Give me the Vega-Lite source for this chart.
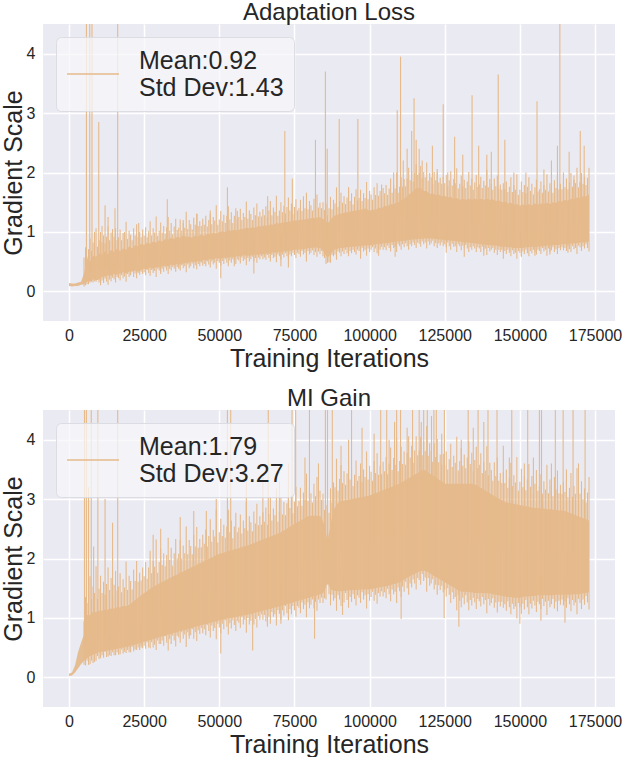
{
"$schema": "https://vega.github.io/schema/vega-lite/v6.json",
"background": "white",
"padding": {"left": 1, "top": 0, "right": 0, "bottom": 0},
"spacing": 15,
"config": {
  "view": {"fill": "#EAEAF2", "stroke": null},
  "font": "Liberation Sans",
  "axis": {"grid": true, "gridColor": "#FFFFFF", "gridWidth": 1.5, "domain": false, "ticks": false, "tickSize": 0, "labelFont": "Liberation Sans", "labelFontSize": 16, "labelColor": "#262626", "titleFont": "Liberation Sans", "titleFontSize": 25, "titleFontWeight": "normal", "titleColor": "#262626"},
  "axisX": {"titlePadding": 3, "labelPadding": 6},
  "axisY": {"titlePadding": 0, "labelPadding": 8},
  "title": {"font": "Liberation Sans", "fontSize": 24, "fontWeight": "normal", "color": "#262626", "offset": -0.5}
},
"resolve": {"scale": {"color": "independent"}, "legend": {"color": "independent"}},
"datasets": {
"a_band": [
{"it":0,"lo":0.09,"hi":0.14},{"it":1000,"lo":0.08,"hi":0.13},{"it":2000,"lo":0.09,"hi":0.13},{"it":3000,"lo":0.09,"hi":0.15},{"it":4000,"lo":0.11,"hi":0.16},{"it":5000,"lo":0.12,"hi":0.3},{"it":6000,"lo":0.16,"hi":0.55},{"it":7000,"lo":0.17,"hi":0.5},{"it":8000,"lo":0.2,"hi":0.6},{"it":9000,"lo":0.19,"hi":0.58},
{"it":10000,"lo":0.2,"hi":0.64},{"it":11000,"lo":0.24,"hi":0.62},{"it":12000,"lo":0.25,"hi":0.68},{"it":13000,"lo":0.27,"hi":0.62},{"it":14000,"lo":0.26,"hi":0.7},{"it":15000,"lo":0.29,"hi":0.66},{"it":16000,"lo":0.28,"hi":0.72},{"it":17000,"lo":0.3,"hi":0.68},{"it":18000,"lo":0.32,"hi":0.72},{"it":19000,"lo":0.31,"hi":0.7},
{"it":20000,"lo":0.33,"hi":0.76},{"it":21000,"lo":0.34,"hi":0.72},{"it":22000,"lo":0.35,"hi":0.78},{"it":23000,"lo":0.33,"hi":0.76},{"it":24000,"lo":0.36,"hi":0.8},{"it":25000,"lo":0.38,"hi":0.78},{"it":26000,"lo":0.37,"hi":0.82},{"it":27000,"lo":0.4,"hi":0.8},{"it":28000,"lo":0.38,"hi":0.84},{"it":29000,"lo":0.41,"hi":0.82},
{"it":30000,"lo":0.4,"hi":0.86},{"it":31000,"lo":0.42,"hi":0.84},{"it":32000,"lo":0.43,"hi":0.88},{"it":33000,"lo":0.42,"hi":0.87},{"it":34000,"lo":0.45,"hi":0.9},{"it":35000,"lo":0.44,"hi":0.88},{"it":36000,"lo":0.46,"hi":0.92},{"it":37000,"lo":0.45,"hi":0.9},{"it":38000,"lo":0.47,"hi":0.94},{"it":39000,"lo":0.48,"hi":0.92},
{"it":40000,"lo":0.48,"hi":0.92},{"it":41000,"lo":0.5,"hi":0.9},{"it":42000,"lo":0.49,"hi":0.94},{"it":43000,"lo":0.51,"hi":0.92},{"it":44000,"lo":0.5,"hi":0.96},{"it":45000,"lo":0.53,"hi":0.93},{"it":46000,"lo":0.52,"hi":0.97},{"it":47000,"lo":0.55,"hi":0.96},{"it":48000,"lo":0.53,"hi":0.99},{"it":49000,"lo":0.56,"hi":0.97},
{"it":50000,"lo":0.55,"hi":1.0},{"it":51000,"lo":0.56,"hi":1.01},{"it":52000,"lo":0.57,"hi":1.0},{"it":53000,"lo":0.56,"hi":1.03},{"it":54000,"lo":0.58,"hi":1.02},{"it":55000,"lo":0.57,"hi":1.04},{"it":56000,"lo":0.6,"hi":1.02},{"it":57000,"lo":0.58,"hi":1.05},{"it":58000,"lo":0.61,"hi":1.05},{"it":59000,"lo":0.6,"hi":1.07},
{"it":60000,"lo":0.6,"hi":1.06},{"it":61000,"lo":0.61,"hi":1.08},{"it":62000,"lo":0.62,"hi":1.07},{"it":63000,"lo":0.61,"hi":1.1},{"it":64000,"lo":0.63,"hi":1.09},{"it":65000,"lo":0.62,"hi":1.11},{"it":66000,"lo":0.64,"hi":1.1},{"it":67000,"lo":0.63,"hi":1.13},{"it":68000,"lo":0.66,"hi":1.12},{"it":69000,"lo":0.64,"hi":1.15},
{"it":70000,"lo":0.67,"hi":1.14},{"it":71000,"lo":0.66,"hi":1.16},{"it":72000,"lo":0.68,"hi":1.16},{"it":73000,"lo":0.67,"hi":1.17},{"it":74000,"lo":0.69,"hi":1.18},{"it":75000,"lo":0.7,"hi":1.19},{"it":76000,"lo":0.7,"hi":1.19},{"it":77000,"lo":0.71,"hi":1.21},{"it":78000,"lo":0.71,"hi":1.2},{"it":79000,"lo":0.72,"hi":1.22},
{"it":80000,"lo":0.73,"hi":1.22},{"it":81000,"lo":0.73,"hi":1.24},{"it":82000,"lo":0.74,"hi":1.23},{"it":83000,"lo":0.73,"hi":1.25},{"it":84000,"lo":0.72,"hi":1.24},{"it":85000,"lo":0.64,"hi":1.2},{"it":86000,"lo":0.56,"hi":1.14},{"it":87000,"lo":0.62,"hi":1.2},{"it":88000,"lo":0.69,"hi":1.27},{"it":89000,"lo":0.71,"hi":1.28},
{"it":90000,"lo":0.73,"hi":1.31},{"it":91000,"lo":0.73,"hi":1.31},{"it":92000,"lo":0.74,"hi":1.33},{"it":93000,"lo":0.74,"hi":1.33},{"it":94000,"lo":0.75,"hi":1.35},{"it":95000,"lo":0.75,"hi":1.35},{"it":96000,"lo":0.76,"hi":1.37},{"it":97000,"lo":0.76,"hi":1.37},{"it":98000,"lo":0.77,"hi":1.39},{"it":99000,"lo":0.77,"hi":1.39},
{"it":100000,"lo":0.77,"hi":1.35},{"it":101000,"lo":0.78,"hi":1.38},{"it":102000,"lo":0.79,"hi":1.37},{"it":103000,"lo":0.79,"hi":1.41},{"it":104000,"lo":0.8,"hi":1.4},{"it":105000,"lo":0.81,"hi":1.44},{"it":106000,"lo":0.81,"hi":1.43},{"it":107000,"lo":0.82,"hi":1.47},{"it":108000,"lo":0.83,"hi":1.46},{"it":109000,"lo":0.84,"hi":1.5},
{"it":110000,"lo":0.84,"hi":1.5},{"it":111000,"lo":0.85,"hi":1.55},{"it":112000,"lo":0.85,"hi":1.57},{"it":113000,"lo":0.86,"hi":1.63},{"it":114000,"lo":0.87,"hi":1.66},{"it":115000,"lo":0.87,"hi":1.72},{"it":116000,"lo":0.88,"hi":1.74},{"it":117000,"lo":0.88,"hi":1.74},{"it":118000,"lo":0.89,"hi":1.69},{"it":119000,"lo":0.89,"hi":1.69},
{"it":120000,"lo":0.89,"hi":1.64},{"it":121000,"lo":0.89,"hi":1.65},{"it":122000,"lo":0.88,"hi":1.62},{"it":123000,"lo":0.87,"hi":1.63},{"it":124000,"lo":0.87,"hi":1.6},{"it":125000,"lo":0.86,"hi":1.61},{"it":126000,"lo":0.86,"hi":1.58},{"it":127000,"lo":0.85,"hi":1.59},{"it":128000,"lo":0.85,"hi":1.56},{"it":129000,"lo":0.84,"hi":1.57},
{"it":130000,"lo":0.84,"hi":1.54},{"it":131000,"lo":0.83,"hi":1.56},{"it":132000,"lo":0.82,"hi":1.54},{"it":133000,"lo":0.82,"hi":1.56},{"it":134000,"lo":0.81,"hi":1.54},{"it":135000,"lo":0.81,"hi":1.56},{"it":136000,"lo":0.8,"hi":1.54},{"it":137000,"lo":0.79,"hi":1.56},{"it":138000,"lo":0.79,"hi":1.54},{"it":139000,"lo":0.78,"hi":1.56},
{"it":140000,"lo":0.78,"hi":1.54},{"it":141000,"lo":0.77,"hi":1.55},{"it":142000,"lo":0.77,"hi":1.52},{"it":143000,"lo":0.76,"hi":1.53},{"it":144000,"lo":0.75,"hi":1.5},{"it":145000,"lo":0.75,"hi":1.51},{"it":146000,"lo":0.74,"hi":1.48},{"it":147000,"lo":0.74,"hi":1.49},{"it":148000,"lo":0.73,"hi":1.46},{"it":149000,"lo":0.73,"hi":1.47},
{"it":150000,"lo":0.73,"hi":1.44},{"it":151000,"lo":0.73,"hi":1.46},{"it":152000,"lo":0.74,"hi":1.45},{"it":153000,"lo":0.74,"hi":1.47},{"it":154000,"lo":0.75,"hi":1.45},{"it":155000,"lo":0.75,"hi":1.48},{"it":156000,"lo":0.75,"hi":1.46},{"it":157000,"lo":0.76,"hi":1.48},{"it":158000,"lo":0.76,"hi":1.47},{"it":159000,"lo":0.77,"hi":1.49},
{"it":160000,"lo":0.77,"hi":1.47},{"it":161000,"lo":0.78,"hi":1.5},{"it":162000,"lo":0.78,"hi":1.49},{"it":163000,"lo":0.78,"hi":1.52},{"it":164000,"lo":0.79,"hi":1.51},{"it":165000,"lo":0.79,"hi":1.54},{"it":166000,"lo":0.8,"hi":1.53},{"it":167000,"lo":0.8,"hi":1.56},{"it":168000,"lo":0.81,"hi":1.55},{"it":169000,"lo":0.81,"hi":1.58},
{"it":170000,"lo":0.82,"hi":1.57},{"it":171000,"lo":0.82,"hi":1.6},{"it":172000,"lo":0.83,"hi":1.6},{"it":173000,"lo":0.84,"hi":1.63}
],
"a_spk": [
{"it":5000,"y1":0.08,"y2":0.57},{"it":5500,"y1":0.1,"y2":0.74},{"it":6000,"y1":0.12,"y2":0.58},{"it":6500,"y1":0.12,"y2":0.71},{"it":7000,"y1":0.15,"y2":0.89},{"it":7500,"y1":0.16,"y2":0.68},{"it":8000,"y1":0.15,"y2":0.82},{"it":8500,"y1":0.17,"y2":0.78},{"it":9000,"y1":0.16,"y2":1.06},{"it":9500,"y1":0.19,"y2":0.75},
{"it":10000,"y1":0.15,"y2":0.86},{"it":10500,"y1":0.1,"y2":1.0},{"it":11000,"y1":0.18,"y2":0.83},{"it":11500,"y1":0.14,"y2":0.94},{"it":12000,"y1":0.21,"y2":0.81},{"it":12500,"y1":0.16,"y2":0.92},{"it":13000,"y1":0.11,"y2":1.09},{"it":13500,"y1":0.2,"y2":0.86},{"it":14000,"y1":0.17,"y2":0.99},{"it":14500,"y1":0.23,"y2":0.8},
{"it":15000,"y1":0.2,"y2":0.92},{"it":15500,"y1":0.15,"y2":1.06},{"it":16000,"y1":0.24,"y2":0.86},{"it":16500,"y1":0.22,"y2":0.91},{"it":17000,"y1":0.18,"y2":1.04},{"it":17500,"y1":0.27,"y2":0.86},{"it":18000,"y1":0.22,"y2":0.98},{"it":18500,"y1":0.25,"y2":0.9},{"it":19000,"y1":0.16,"y2":1.17},{"it":19500,"y1":0.29,"y2":0.88},
{"it":20000,"y1":0.24,"y2":1.02},{"it":20500,"y1":0.27,"y2":0.95},{"it":21000,"y1":0.32,"y2":0.86},{"it":21500,"y1":0.24,"y2":1.06},{"it":22000,"y1":0.3,"y2":0.94},{"it":22500,"y1":0.22,"y2":1.13},{"it":23000,"y1":0.31,"y2":0.91},{"it":23500,"y1":0.28,"y2":1.0},{"it":24000,"y1":0.33,"y2":0.91},{"it":24500,"y1":0.29,"y2":1.04},
{"it":25000,"y1":0.32,"y2":0.94},{"it":25500,"y1":0.27,"y2":1.08},{"it":26000,"y1":0.36,"y2":0.91},{"it":26500,"y1":0.31,"y2":1.01},{"it":27000,"y1":0.26,"y2":1.18},{"it":27500,"y1":0.36,"y2":0.94},{"it":28000,"y1":0.31,"y2":1.06},{"it":28500,"y1":0.34,"y2":0.99},{"it":29000,"y1":0.24,"y2":1.26},{"it":29500,"y1":0.38,"y2":0.93},
{"it":30000,"y1":0.35,"y2":1.02},{"it":30500,"y1":0.29,"y2":1.16},{"it":31000,"y1":0.38,"y2":0.99},{"it":31500,"y1":0.33,"y2":1.1},{"it":32000,"y1":0.4,"y2":0.97},{"it":32500,"y1":0.35,"y2":1.08},{"it":33000,"y1":0.29,"y2":1.25},{"it":33500,"y1":0.38,"y2":1.02},{"it":34000,"y1":0.35,"y2":1.15},{"it":34500,"y1":0.41,"y2":0.96},
{"it":35000,"y1":0.38,"y2":1.09},{"it":35500,"y1":0.33,"y2":1.22},{"it":36000,"y1":0.41,"y2":1.03},{"it":36500,"y1":0.4,"y2":1.07},{"it":37000,"y1":0.35,"y2":1.21},{"it":37500,"y1":0.44,"y2":1.02},{"it":38000,"y1":0.39,"y2":1.15},{"it":38500,"y1":0.42,"y2":1.07},{"it":39000,"y1":0.32,"y2":1.34},{"it":39500,"y1":0.45,"y2":1.05},
{"it":40000,"y1":0.39,"y2":1.2},{"it":40500,"y1":0.42,"y2":1.13},{"it":41000,"y1":0.47,"y2":1.04},{"it":41500,"y1":0.39,"y2":1.24},{"it":42000,"y1":0.44,"y2":1.12},{"it":42500,"y1":0.37,"y2":1.31},{"it":43000,"y1":0.46,"y2":1.1},{"it":43500,"y1":0.42,"y2":1.18},{"it":44000,"y1":0.48,"y2":1.1},{"it":44500,"y1":0.43,"y2":1.22},
{"it":45000,"y1":0.46,"y2":1.12},{"it":45500,"y1":0.42,"y2":1.27},{"it":46000,"y1":0.5,"y2":1.09},{"it":46500,"y1":0.45,"y2":1.2},{"it":47000,"y1":0.4,"y2":1.36},{"it":47500,"y1":0.5,"y2":1.13},{"it":48000,"y1":0.45,"y2":1.25},{"it":48500,"y1":0.48,"y2":1.19},{"it":49000,"y1":0.38,"y2":1.45},{"it":49500,"y1":0.51,"y2":1.12},
{"it":50000,"y1":0.48,"y2":1.21},{"it":50500,"y1":0.43,"y2":1.35},{"it":51000,"y1":0.51,"y2":1.18},{"it":51500,"y1":0.46,"y2":1.29},{"it":52000,"y1":0.54,"y2":1.15},{"it":52500,"y1":0.48,"y2":1.27},{"it":53000,"y1":0.42,"y2":1.43},{"it":53500,"y1":0.52,"y2":1.21},{"it":54000,"y1":0.48,"y2":1.33},{"it":54500,"y1":0.54,"y2":1.15},
{"it":55000,"y1":0.5,"y2":1.27},{"it":55500,"y1":0.46,"y2":1.4},{"it":56000,"y1":0.54,"y2":1.21},{"it":56500,"y1":0.52,"y2":1.25},{"it":57000,"y1":0.47,"y2":1.39},{"it":57500,"y1":0.57,"y2":1.2},{"it":58000,"y1":0.51,"y2":1.32},{"it":58500,"y1":0.54,"y2":1.25},{"it":59000,"y1":0.44,"y2":1.51},{"it":59500,"y1":0.56,"y2":1.22},
{"it":60000,"y1":0.5,"y2":1.36},{"it":60500,"y1":0.54,"y2":1.3},{"it":61000,"y1":0.58,"y2":1.2},{"it":61500,"y1":0.5,"y2":1.41},{"it":62000,"y1":0.56,"y2":1.28},{"it":62500,"y1":0.48,"y2":1.48},{"it":63000,"y1":0.57,"y2":1.26},{"it":63500,"y1":0.54,"y2":1.34},{"it":64000,"y1":0.59,"y2":1.26},{"it":64500,"y1":0.54,"y2":1.38},
{"it":65000,"y1":0.57,"y2":1.28},{"it":65500,"y1":0.53,"y2":1.43},{"it":66000,"y1":0.61,"y2":1.25},{"it":66500,"y1":0.56,"y2":1.36},{"it":67000,"y1":0.5,"y2":1.52},{"it":67500,"y1":0.61,"y2":1.28},{"it":68000,"y1":0.56,"y2":1.41},{"it":68500,"y1":0.58,"y2":1.34},{"it":69000,"y1":0.49,"y2":1.61},{"it":69500,"y1":0.62,"y2":1.27},
{"it":70000,"y1":0.59,"y2":1.36},{"it":70500,"y1":0.53,"y2":1.5},{"it":71000,"y1":0.62,"y2":1.33},{"it":71500,"y1":0.57,"y2":1.44},{"it":72000,"y1":0.64,"y2":1.31},{"it":72500,"y1":0.59,"y2":1.42},{"it":73000,"y1":0.53,"y2":1.58},{"it":73500,"y1":0.62,"y2":1.36},{"it":74000,"y1":0.59,"y2":1.48},{"it":74500,"y1":0.65,"y2":1.3},
{"it":75000,"y1":0.61,"y2":1.42},{"it":75500,"y1":0.56,"y2":1.55},{"it":76000,"y1":0.65,"y2":1.36},{"it":76500,"y1":0.63,"y2":1.4},{"it":77000,"y1":0.58,"y2":1.54},{"it":77500,"y1":0.68,"y2":1.35},{"it":78000,"y1":0.62,"y2":1.47},{"it":78500,"y1":0.65,"y2":1.4},{"it":79000,"y1":0.56,"y2":1.66},{"it":79500,"y1":0.68,"y2":1.38},
{"it":80000,"y1":0.62,"y2":1.52},{"it":80500,"y1":0.65,"y2":1.45},{"it":81000,"y1":0.69,"y2":1.36},{"it":81500,"y1":0.61,"y2":1.56},{"it":82000,"y1":0.66,"y2":1.43},{"it":82500,"y1":0.58,"y2":1.63},{"it":83000,"y1":0.67,"y2":1.41},{"it":83500,"y1":0.63,"y2":1.49},{"it":84000,"y1":0.68,"y2":1.4},{"it":84500,"y1":0.59,"y2":1.5},
{"it":85000,"y1":0.56,"y2":1.37},{"it":85500,"y1":0.46,"y2":1.48},{"it":86000,"y1":0.51,"y2":1.28},{"it":86500,"y1":0.49,"y2":1.4},{"it":87000,"y1":0.48,"y2":1.59},{"it":87500,"y1":0.61,"y2":1.38},{"it":88000,"y1":0.59,"y2":1.54},{"it":88500,"y1":0.62,"y2":1.48},{"it":89000,"y1":0.53,"y2":1.75},{"it":89500,"y1":0.67,"y2":1.42},
{"it":90000,"y1":0.65,"y2":1.52},{"it":90500,"y1":0.59,"y2":1.66},{"it":91000,"y1":0.67,"y2":1.49},{"it":91500,"y1":0.63,"y2":1.6},{"it":92000,"y1":0.7,"y2":1.47},{"it":92500,"y1":0.64,"y2":1.58},{"it":93000,"y1":0.59,"y2":1.75},{"it":93500,"y1":0.68,"y2":1.52},{"it":94000,"y1":0.64,"y2":1.65},{"it":94500,"y1":0.7,"y2":1.46},
{"it":95000,"y1":0.66,"y2":1.59},{"it":95500,"y1":0.62,"y2":1.72},{"it":96000,"y1":0.7,"y2":1.53},{"it":96500,"y1":0.68,"y2":1.57},{"it":97000,"y1":0.63,"y2":1.71},{"it":97500,"y1":0.73,"y2":1.52},{"it":98000,"y1":0.67,"y2":1.65},{"it":98500,"y1":0.7,"y2":1.57},{"it":99000,"y1":0.6,"y2":1.84},{"it":99500,"y1":0.72,"y2":1.55},
{"it":100000,"y1":0.66,"y2":1.69},{"it":100500,"y1":0.7,"y2":1.63},{"it":101000,"y1":0.74,"y2":1.54},{"it":101500,"y1":0.66,"y2":1.75},{"it":102000,"y1":0.72,"y2":1.62},{"it":102500,"y1":0.64,"y2":1.82},{"it":103000,"y1":0.73,"y2":1.61},{"it":103500,"y1":0.7,"y2":1.69},{"it":104000,"y1":0.75,"y2":1.61},{"it":104500,"y1":0.7,"y2":1.74},
{"it":105000,"y1":0.74,"y2":1.65},{"it":105500,"y1":0.69,"y2":1.79},{"it":106000,"y1":0.77,"y2":1.62},{"it":106500,"y1":0.73,"y2":1.73},{"it":107000,"y1":0.67,"y2":1.9},{"it":107500,"y1":0.78,"y2":1.66},{"it":108000,"y1":0.73,"y2":1.79},{"it":108500,"y1":0.75,"y2":1.73},{"it":109000,"y1":0.66,"y2":2.0},{"it":109500,"y1":0.79,"y2":1.66},
{"it":110000,"y1":0.76,"y2":1.76},{"it":110500,"y1":0.7,"y2":1.92},{"it":111000,"y1":0.79,"y2":1.76},{"it":111500,"y1":0.74,"y2":1.89},{"it":112000,"y1":0.81,"y2":1.77},{"it":112500,"y1":0.76,"y2":1.9},{"it":113000,"y1":0.7,"y2":2.08},{"it":113500,"y1":0.79,"y2":1.87},{"it":114000,"y1":0.76,"y2":2.02},{"it":114500,"y1":0.82,"y2":1.85},
{"it":115000,"y1":0.78,"y2":1.99},{"it":115500,"y1":0.73,"y2":2.14},{"it":116000,"y1":0.82,"y2":1.96},{"it":116500,"y1":0.8,"y2":1.99},{"it":117000,"y1":0.75,"y2":2.11},{"it":117500,"y1":0.84,"y2":1.9},{"it":118000,"y1":0.79,"y2":2.01},{"it":118500,"y1":0.82,"y2":1.92},{"it":119000,"y1":0.72,"y2":2.17},{"it":119500,"y1":0.84,"y2":1.86},
{"it":120000,"y1":0.78,"y2":1.99},{"it":120500,"y1":0.81,"y2":1.92},{"it":121000,"y1":0.85,"y2":1.81},{"it":121500,"y1":0.76,"y2":2.01},{"it":122000,"y1":0.81,"y2":1.87},{"it":122500,"y1":0.73,"y2":2.06},{"it":123000,"y1":0.81,"y2":1.83},{"it":123500,"y1":0.77,"y2":1.91},{"it":124000,"y1":0.82,"y2":1.81},{"it":124500,"y1":0.76,"y2":1.93},
{"it":125000,"y1":0.79,"y2":1.82},{"it":125500,"y1":0.74,"y2":1.96},{"it":126000,"y1":0.82,"y2":1.77},{"it":126500,"y1":0.76,"y2":1.87},{"it":127000,"y1":0.7,"y2":2.02},{"it":127500,"y1":0.8,"y2":1.78},{"it":128000,"y1":0.75,"y2":1.89},{"it":128500,"y1":0.76,"y2":1.82},{"it":129000,"y1":0.66,"y2":2.07},{"it":129500,"y1":0.79,"y2":1.73},
{"it":130000,"y1":0.76,"y2":1.81},{"it":130500,"y1":0.69,"y2":1.95},{"it":131000,"y1":0.77,"y2":1.77},{"it":131500,"y1":0.72,"y2":1.88},{"it":132000,"y1":0.78,"y2":1.74},{"it":132500,"y1":0.72,"y2":1.85},{"it":133000,"y1":0.66,"y2":2.01},{"it":133500,"y1":0.74,"y2":1.78},{"it":134000,"y1":0.7,"y2":1.9},{"it":134500,"y1":0.76,"y2":1.71},
{"it":135000,"y1":0.72,"y2":1.83},{"it":135500,"y1":0.66,"y2":1.96},{"it":136000,"y1":0.74,"y2":1.76},{"it":136500,"y1":0.72,"y2":1.8},{"it":137000,"y1":0.66,"y2":1.93},{"it":137500,"y1":0.75,"y2":1.74},{"it":138000,"y1":0.69,"y2":1.86},{"it":138500,"y1":0.72,"y2":1.78},{"it":139000,"y1":0.61,"y2":2.04},{"it":139500,"y1":0.73,"y2":1.75},
{"it":140000,"y1":0.67,"y2":1.89},{"it":140500,"y1":0.7,"y2":1.81},{"it":141000,"y1":0.73,"y2":1.71},{"it":141500,"y1":0.65,"y2":1.9},{"it":142000,"y1":0.7,"y2":1.77},{"it":142500,"y1":0.61,"y2":1.95},{"it":143000,"y1":0.7,"y2":1.73},{"it":143500,"y1":0.66,"y2":1.8},{"it":144000,"y1":0.7,"y2":1.71},{"it":144500,"y1":0.65,"y2":1.82},
{"it":145000,"y1":0.68,"y2":1.72},{"it":145500,"y1":0.63,"y2":1.85},{"it":146000,"y1":0.7,"y2":1.67},{"it":146500,"y1":0.65,"y2":1.76},{"it":147000,"y1":0.59,"y2":1.92},{"it":147500,"y1":0.69,"y2":1.67},{"it":148000,"y1":0.63,"y2":1.79},{"it":148500,"y1":0.65,"y2":1.71},{"it":149000,"y1":0.55,"y2":1.97},{"it":149500,"y1":0.68,"y2":1.62},
{"it":150000,"y1":0.65,"y2":1.71},{"it":150500,"y1":0.59,"y2":1.85},{"it":151000,"y1":0.67,"y2":1.67},{"it":151500,"y1":0.63,"y2":1.79},{"it":152000,"y1":0.7,"y2":1.65},{"it":152500,"y1":0.64,"y2":1.76},{"it":153000,"y1":0.59,"y2":1.92},{"it":153500,"y1":0.68,"y2":1.69},{"it":154000,"y1":0.64,"y2":1.81},{"it":154500,"y1":0.7,"y2":1.63},
{"it":155000,"y1":0.66,"y2":1.75},{"it":155500,"y1":0.62,"y2":1.88},{"it":156000,"y1":0.7,"y2":1.68},{"it":156500,"y1":0.68,"y2":1.72},{"it":157000,"y1":0.63,"y2":1.85},{"it":157500,"y1":0.73,"y2":1.66},{"it":158000,"y1":0.67,"y2":1.79},{"it":158500,"y1":0.7,"y2":1.71},{"it":159000,"y1":0.6,"y2":1.97},{"it":159500,"y1":0.72,"y2":1.68},
{"it":160000,"y1":0.66,"y2":1.82},{"it":160500,"y1":0.69,"y2":1.76},{"it":161000,"y1":0.74,"y2":1.66},{"it":161500,"y1":0.66,"y2":1.87},{"it":162000,"y1":0.71,"y2":1.74},{"it":162500,"y1":0.63,"y2":1.94},{"it":163000,"y1":0.73,"y2":1.72},{"it":163500,"y1":0.69,"y2":1.81},{"it":164000,"y1":0.74,"y2":1.72},{"it":164500,"y1":0.69,"y2":1.85},
{"it":165000,"y1":0.73,"y2":1.75},{"it":165500,"y1":0.68,"y2":1.9},{"it":166000,"y1":0.76,"y2":1.72},{"it":166500,"y1":0.71,"y2":1.83},{"it":167000,"y1":0.66,"y2":1.99},{"it":167500,"y1":0.76,"y2":1.76},{"it":168000,"y1":0.71,"y2":1.88},{"it":168500,"y1":0.73,"y2":1.82},{"it":169000,"y1":0.63,"y2":2.08},{"it":169500,"y1":0.77,"y2":1.75},
{"it":170000,"y1":0.74,"y2":1.84},{"it":170500,"y1":0.68,"y2":1.99},{"it":171000,"y1":0.76,"y2":1.81},{"it":171500,"y1":0.72,"y2":1.93},{"it":172000,"y1":0.79,"y2":1.79},{"it":172500,"y1":0.73,"y2":1.91},{"it":173000,"y1":0.67,"y2":2.08},
{"it":5800,"y1":0.3,"y2":6},{"it":6900,"y1":0.3,"y2":6},{"it":7650,"y1":0.3,"y2":6},{"it":9900,"y1":0.4,"y2":2.85},{"it":8500,"y1":0.3,"y2":1.0},{"it":11000,"y1":0.4,"y2":1.1},{"it":12000,"y1":0.4,"y2":1.45},{"it":13000,"y1":0.4,"y2":1.25},{"it":14500,"y1":0.4,"y2":1.05},{"it":15300,"y1":0.4,"y2":1.4},{"it":16200,"y1":0.4,"y2":6},
{"it":18500,"y1":0.5,"y2":1.0},{"it":23200,"y1":0.5,"y2":1.15},{"it":32700,"y1":0.6,"y2":1.55},{"it":38000,"y1":0.6,"y2":1.2},{"it":42600,"y1":0.7,"y2":1.3},{"it":47000,"y1":0.7,"y2":1.3},{"it":52700,"y1":0.75,"y2":1.75},{"it":56000,"y1":0.8,"y2":1.35},{"it":66100,"y1":0.85,"y2":1.6},
{"it":71800,"y1":0.9,"y2":2.7},{"it":74300,"y1":0.95,"y2":1.9},{"it":78000,"y1":0.95,"y2":1.6},{"it":82000,"y1":1.0,"y2":2.55},{"it":85300,"y1":1.0,"y2":3.7},{"it":85900,"y1":0.9,"y2":2.4},{"it":89900,"y1":1.0,"y2":2.9},{"it":93000,"y1":1.05,"y2":1.75},{"it":96100,"y1":1.05,"y2":2.9},{"it":104000,"y1":1.1,"y2":1.8},
{"it":108000,"y1":1.15,"y2":2.0},{"it":109200,"y1":1.2,"y2":3.05},{"it":110300,"y1":1.2,"y2":3.95},{"it":111200,"y1":1.2,"y2":2.2},{"it":112500,"y1":1.2,"y2":2.4},{"it":114000,"y1":1.25,"y2":2.7},{"it":114800,"y1":1.25,"y2":3.25},{"it":115500,"y1":1.25,"y2":2.55},{"it":116500,"y1":1.25,"y2":2.4},{"it":117500,"y1":1.25,"y2":2.2},
{"it":120900,"y1":1.2,"y2":2.45},{"it":122500,"y1":1.2,"y2":2.0},{"it":124500,"y1":1.2,"y2":3.15},{"it":126000,"y1":1.2,"y2":2.0},{"it":128300,"y1":1.15,"y2":2.6},{"it":131000,"y1":1.15,"y2":2.3},{"it":134100,"y1":1.15,"y2":3.3},{"it":136300,"y1":1.15,"y2":2.45},{"it":139000,"y1":1.1,"y2":2.3},{"it":140500,"y1":1.1,"y2":2.35},
{"it":142800,"y1":1.1,"y2":3.65},{"it":145000,"y1":1.1,"y2":2.55},{"it":148000,"y1":1.05,"y2":2.0},{"it":152000,"y1":1.05,"y2":2.0},{"it":155700,"y1":1.05,"y2":3.2},{"it":158000,"y1":1.05,"y2":2.05},{"it":160500,"y1":1.1,"y2":2.2},{"it":162500,"y1":1.1,"y2":2.45},{"it":163300,"y1":1.1,"y2":6},{"it":164500,"y1":1.1,"y2":2.0},
{"it":166400,"y1":1.1,"y2":2.35},{"it":168000,"y1":1.15,"y2":1.95},{"it":170100,"y1":1.15,"y2":2.7},{"it":171400,"y1":1.15,"y2":2.45},
{"it":10500,"y1":0.4,"y2":0.14},{"it":19000,"y1":0.5,"y2":0.3},{"it":30500,"y1":0.6,"y2":0.32},{"it":36500,"y1":0.6,"y2":0.38},{"it":50500,"y1":0.8,"y2":0.22},{"it":55000,"y1":0.8,"y2":0.42},{"it":61500,"y1":0.85,"y2":0.3},{"it":70500,"y1":0.9,"y2":0.42},{"it":73000,"y1":0.9,"y2":0.4},{"it":79000,"y1":0.95,"y2":0.5},
{"it":86000,"y1":0.9,"y2":0.48},{"it":97000,"y1":1.0,"y2":0.55},{"it":103000,"y1":1.0,"y2":0.6},{"it":108500,"y1":1.05,"y2":0.58},{"it":125500,"y1":1.15,"y2":0.65},{"it":131500,"y1":1.1,"y2":0.58},{"it":138000,"y1":1.05,"y2":0.6},{"it":144500,"y1":1.05,"y2":0.55},{"it":150500,"y1":1.0,"y2":0.58},{"it":155000,"y1":1.0,"y2":0.6},{"it":160000,"y1":1.0,"y2":0.62},{"it":166000,"y1":1.05,"y2":0.65}
],
"m_band": [
{"it":0,"lo":0.02,"hi":0.06},{"it":1000,"lo":0.03,"hi":0.08},{"it":2000,"lo":0.08,"hi":0.2},{"it":3000,"lo":0.15,"hi":0.42},{"it":4000,"lo":0.22,"hi":0.58},{"it":5000,"lo":0.28,"hi":0.72},{"it":6000,"lo":0.32,"hi":1.05},{"it":7000,"lo":0.36,"hi":1.05},{"it":8000,"lo":0.38,"hi":1.1},{"it":9000,"lo":0.4,"hi":1.1},
{"it":10000,"lo":0.42,"hi":1.12},{"it":11000,"lo":0.43,"hi":1.12},{"it":12000,"lo":0.44,"hi":1.14},{"it":13000,"lo":0.45,"hi":1.14},{"it":14000,"lo":0.46,"hi":1.16},{"it":15000,"lo":0.47,"hi":1.16},{"it":16000,"lo":0.48,"hi":1.18},{"it":17000,"lo":0.49,"hi":1.18},{"it":18000,"lo":0.5,"hi":1.2},{"it":19000,"lo":0.51,"hi":1.2},
{"it":20000,"lo":0.52,"hi":1.22},{"it":21000,"lo":0.54,"hi":1.26},{"it":22000,"lo":0.55,"hi":1.3},{"it":23000,"lo":0.57,"hi":1.34},{"it":24000,"lo":0.58,"hi":1.38},{"it":25000,"lo":0.6,"hi":1.42},{"it":26000,"lo":0.61,"hi":1.45},{"it":27000,"lo":0.63,"hi":1.49},{"it":28000,"lo":0.64,"hi":1.52},{"it":29000,"lo":0.66,"hi":1.55},
{"it":30000,"lo":0.67,"hi":1.58},{"it":31000,"lo":0.69,"hi":1.61},{"it":32000,"lo":0.7,"hi":1.63},{"it":33000,"lo":0.72,"hi":1.66},{"it":34000,"lo":0.73,"hi":1.68},{"it":35000,"lo":0.75,"hi":1.71},{"it":36000,"lo":0.76,"hi":1.73},{"it":37000,"lo":0.78,"hi":1.76},{"it":38000,"lo":0.79,"hi":1.78},{"it":39000,"lo":0.8,"hi":1.81},
{"it":40000,"lo":0.82,"hi":1.83},{"it":41000,"lo":0.83,"hi":1.86},{"it":42000,"lo":0.85,"hi":1.88},{"it":43000,"lo":0.86,"hi":1.91},{"it":44000,"lo":0.88,"hi":1.93},{"it":45000,"lo":0.89,"hi":1.96},{"it":46000,"lo":0.9,"hi":1.98},{"it":47000,"lo":0.92,"hi":2.01},{"it":48000,"lo":0.93,"hi":2.03},{"it":49000,"lo":0.94,"hi":2.06},
{"it":50000,"lo":0.96,"hi":2.08},{"it":51000,"lo":0.97,"hi":2.09},{"it":52000,"lo":0.98,"hi":2.11},{"it":53000,"lo":0.99,"hi":2.12},{"it":54000,"lo":1.0,"hi":2.14},{"it":55000,"lo":1.01,"hi":2.15},{"it":56000,"lo":1.02,"hi":2.17},{"it":57000,"lo":1.03,"hi":2.18},{"it":58000,"lo":1.04,"hi":2.2},{"it":59000,"lo":1.05,"hi":2.21},
{"it":60000,"lo":1.06,"hi":2.23},{"it":61000,"lo":1.07,"hi":2.25},{"it":62000,"lo":1.09,"hi":2.27},{"it":63000,"lo":1.1,"hi":2.29},{"it":64000,"lo":1.11,"hi":2.31},{"it":65000,"lo":1.13,"hi":2.33},{"it":66000,"lo":1.14,"hi":2.35},{"it":67000,"lo":1.15,"hi":2.37},{"it":68000,"lo":1.17,"hi":2.39},{"it":69000,"lo":1.18,"hi":2.41},
{"it":70000,"lo":1.19,"hi":2.43},{"it":71000,"lo":1.21,"hi":2.46},{"it":72000,"lo":1.22,"hi":2.49},{"it":73000,"lo":1.24,"hi":2.52},{"it":74000,"lo":1.25,"hi":2.55},{"it":75000,"lo":1.27,"hi":2.58},{"it":76000,"lo":1.28,"hi":2.61},{"it":77000,"lo":1.3,"hi":2.64},{"it":78000,"lo":1.31,"hi":2.67},{"it":79000,"lo":1.33,"hi":2.7},
{"it":80000,"lo":1.34,"hi":2.72},{"it":81000,"lo":1.36,"hi":2.72},{"it":82000,"lo":1.37,"hi":2.72},{"it":83000,"lo":1.39,"hi":2.72},{"it":84000,"lo":1.4,"hi":2.7},{"it":85000,"lo":1.44,"hi":2.55},{"it":86000,"lo":1.6,"hi":2.3},{"it":87000,"lo":1.48,"hi":2.55},{"it":88000,"lo":1.46,"hi":2.82},{"it":89000,"lo":1.45,"hi":2.9},
{"it":90000,"lo":1.45,"hi":2.96},{"it":91000,"lo":1.45,"hi":2.97},{"it":92000,"lo":1.46,"hi":2.98},{"it":93000,"lo":1.46,"hi":2.99},{"it":94000,"lo":1.47,"hi":3.0},{"it":95000,"lo":1.47,"hi":3.01},{"it":96000,"lo":1.47,"hi":3.02},{"it":97000,"lo":1.48,"hi":3.03},{"it":98000,"lo":1.48,"hi":3.04},{"it":99000,"lo":1.48,"hi":3.05},
{"it":100000,"lo":1.48,"hi":3.06},{"it":101000,"lo":1.49,"hi":3.08},{"it":102000,"lo":1.5,"hi":3.1},{"it":103000,"lo":1.51,"hi":3.12},{"it":104000,"lo":1.52,"hi":3.14},{"it":105000,"lo":1.53,"hi":3.16},{"it":106000,"lo":1.54,"hi":3.18},{"it":107000,"lo":1.55,"hi":3.2},{"it":108000,"lo":1.57,"hi":3.22},{"it":109000,"lo":1.58,"hi":3.24},
{"it":110000,"lo":1.6,"hi":3.26},{"it":111000,"lo":1.63,"hi":3.29},{"it":112000,"lo":1.66,"hi":3.32},{"it":113000,"lo":1.69,"hi":3.35},{"it":114000,"lo":1.72,"hi":3.38},{"it":115000,"lo":1.74,"hi":3.41},{"it":116000,"lo":1.77,"hi":3.44},{"it":117000,"lo":1.79,"hi":3.47},{"it":118000,"lo":1.8,"hi":3.5},{"it":119000,"lo":1.78,"hi":3.47},
{"it":120000,"lo":1.75,"hi":3.43},{"it":121000,"lo":1.72,"hi":3.4},{"it":122000,"lo":1.69,"hi":3.37},{"it":123000,"lo":1.66,"hi":3.33},{"it":124000,"lo":1.63,"hi":3.3},{"it":125000,"lo":1.6,"hi":3.26},{"it":126000,"lo":1.57,"hi":3.26},{"it":127000,"lo":1.54,"hi":3.26},{"it":128000,"lo":1.51,"hi":3.26},{"it":129000,"lo":1.48,"hi":3.26},
{"it":130000,"lo":1.45,"hi":3.26},{"it":131000,"lo":1.44,"hi":3.26},{"it":132000,"lo":1.44,"hi":3.26},{"it":133000,"lo":1.43,"hi":3.26},{"it":134000,"lo":1.43,"hi":3.26},{"it":135000,"lo":1.42,"hi":3.25},{"it":136000,"lo":1.42,"hi":3.22},{"it":137000,"lo":1.42,"hi":3.19},{"it":138000,"lo":1.42,"hi":3.16},{"it":139000,"lo":1.41,"hi":3.13},
{"it":140000,"lo":1.41,"hi":3.1},{"it":141000,"lo":1.4,"hi":3.07},{"it":142000,"lo":1.39,"hi":3.04},{"it":143000,"lo":1.38,"hi":3.01},{"it":144000,"lo":1.37,"hi":2.98},{"it":145000,"lo":1.36,"hi":2.95},{"it":146000,"lo":1.35,"hi":2.94},{"it":147000,"lo":1.35,"hi":2.93},{"it":148000,"lo":1.34,"hi":2.92},{"it":149000,"lo":1.34,"hi":2.91},
{"it":150000,"lo":1.34,"hi":2.9},{"it":151000,"lo":1.35,"hi":2.89},{"it":152000,"lo":1.36,"hi":2.88},{"it":153000,"lo":1.36,"hi":2.87},{"it":154000,"lo":1.37,"hi":2.86},{"it":155000,"lo":1.37,"hi":2.85},{"it":156000,"lo":1.38,"hi":2.85},{"it":157000,"lo":1.38,"hi":2.84},{"it":158000,"lo":1.38,"hi":2.84},{"it":159000,"lo":1.38,"hi":2.83},
{"it":160000,"lo":1.38,"hi":2.83},{"it":161000,"lo":1.38,"hi":2.82},{"it":162000,"lo":1.39,"hi":2.82},{"it":163000,"lo":1.39,"hi":2.81},{"it":164000,"lo":1.39,"hi":2.81},{"it":165000,"lo":1.39,"hi":2.8},{"it":166000,"lo":1.39,"hi":2.78},{"it":167000,"lo":1.39,"hi":2.76},{"it":168000,"lo":1.4,"hi":2.74},{"it":169000,"lo":1.4,"hi":2.72},
{"it":170000,"lo":1.4,"hi":2.7},{"it":171000,"lo":1.41,"hi":2.68},{"it":172000,"lo":1.42,"hi":2.66},{"it":173000,"lo":1.43,"hi":2.64}
],
"m_spk": [
{"it":5000,"y1":0.21,"y2":0.94},{"it":5500,"y1":0.2,"y2":1.35},{"it":6000,"y1":0.28,"y2":1.25},{"it":6500,"y1":0.21,"y2":1.43},{"it":7000,"y1":0.22,"y2":1.7},{"it":7500,"y1":0.28,"y2":1.32},{"it":8000,"y1":0.24,"y2":1.53},{"it":8500,"y1":0.26,"y2":1.42},{"it":9000,"y1":0.28,"y2":1.87},{"it":9500,"y1":0.36,"y2":1.32},
{"it":10000,"y1":0.31,"y2":1.49},{"it":10500,"y1":0.32,"y2":1.71},{"it":11000,"y1":0.37,"y2":1.42},{"it":11500,"y1":0.33,"y2":1.61},{"it":12000,"y1":0.43,"y2":1.39},{"it":12500,"y1":0.34,"y2":1.57},{"it":13000,"y1":0.35,"y2":1.85},{"it":13500,"y1":0.37,"y2":1.47},{"it":14000,"y1":0.36,"y2":1.67},{"it":14500,"y1":0.42,"y2":1.36},
{"it":15000,"y1":0.37,"y2":1.56},{"it":15500,"y1":0.37,"y2":1.79},{"it":16000,"y1":0.42,"y2":1.46},{"it":16500,"y1":0.38,"y2":1.53},{"it":17000,"y1":0.39,"y2":1.75},{"it":17500,"y1":0.47,"y2":1.43},{"it":18000,"y1":0.4,"y2":1.65},{"it":18500,"y1":0.43,"y2":1.51},{"it":19000,"y1":0.41,"y2":1.95},{"it":19500,"y1":0.46,"y2":1.47},
{"it":20000,"y1":0.42,"y2":1.71},{"it":20500,"y1":0.42,"y2":1.62},{"it":21000,"y1":0.51,"y2":1.48},{"it":21500,"y1":0.44,"y2":1.81},{"it":22000,"y1":0.47,"y2":1.62},{"it":22500,"y1":0.46,"y2":1.96},{"it":23000,"y1":0.5,"y2":1.61},{"it":23500,"y1":0.46,"y2":1.76},{"it":24000,"y1":0.54,"y2":1.63},{"it":24500,"y1":0.49,"y2":1.85},
{"it":25000,"y1":0.53,"y2":1.7},{"it":25500,"y1":0.48,"y2":1.94},{"it":26000,"y1":0.59,"y2":1.66},{"it":26500,"y1":0.5,"y2":1.85},{"it":27000,"y1":0.49,"y2":2.13},{"it":27500,"y1":0.59,"y2":1.75},{"it":28000,"y1":0.5,"y2":1.96},{"it":28500,"y1":0.55,"y2":1.86},{"it":29000,"y1":0.46,"y2":2.32},{"it":29500,"y1":0.62,"y2":1.76},
{"it":30000,"y1":0.56,"y2":1.94},{"it":30500,"y1":0.56,"y2":2.17},{"it":31000,"y1":0.62,"y2":1.89},{"it":31500,"y1":0.53,"y2":2.09},{"it":32000,"y1":0.69,"y2":1.87},{"it":32500,"y1":0.58,"y2":2.06},{"it":33000,"y1":0.45,"y2":2.35},{"it":33500,"y1":0.64,"y2":1.98},{"it":34000,"y1":0.56,"y2":2.18},{"it":34500,"y1":0.7,"y2":1.88},
{"it":35000,"y1":0.62,"y2":2.09},{"it":35500,"y1":0.52,"y2":2.33},{"it":36000,"y1":0.7,"y2":2.0},{"it":36500,"y1":0.67,"y2":2.08},{"it":37000,"y1":0.58,"y2":2.31},{"it":37500,"y1":0.76,"y2":2.0},{"it":38000,"y1":0.65,"y2":2.22},{"it":38500,"y1":0.72,"y2":2.09},{"it":39000,"y1":0.51,"y2":2.54},{"it":39500,"y1":0.76,"y2":2.07},
{"it":40000,"y1":0.65,"y2":2.31},{"it":40500,"y1":0.71,"y2":2.21},{"it":41000,"y1":0.81,"y2":2.07},{"it":41500,"y1":0.65,"y2":2.4},{"it":42000,"y1":0.76,"y2":2.2},{"it":42500,"y1":0.61,"y2":2.53},{"it":43000,"y1":0.79,"y2":2.18},{"it":43500,"y1":0.73,"y2":2.33},{"it":44000,"y1":0.83,"y2":2.19},{"it":44500,"y1":0.74,"y2":2.4},
{"it":45000,"y1":0.81,"y2":2.25},{"it":45500,"y1":0.71,"y2":2.49},{"it":46000,"y1":0.88,"y2":2.2},{"it":46500,"y1":0.78,"y2":2.38},{"it":47000,"y1":0.67,"y2":2.66},{"it":47500,"y1":0.87,"y2":2.28},{"it":48000,"y1":0.78,"y2":2.48},{"it":48500,"y1":0.83,"y2":2.37},{"it":49000,"y1":0.64,"y2":2.83},{"it":49500,"y1":0.9,"y2":2.27},
{"it":50000,"y1":0.84,"y2":2.44},{"it":50500,"y1":0.74,"y2":2.67},{"it":51000,"y1":0.9,"y2":2.38},{"it":51500,"y1":0.81,"y2":2.57},{"it":52000,"y1":0.96,"y2":2.35},{"it":52500,"y1":0.85,"y2":2.54},{"it":53000,"y1":0.72,"y2":2.82},{"it":53500,"y1":0.91,"y2":2.44},{"it":54000,"y1":0.82,"y2":2.64},{"it":54500,"y1":0.96,"y2":2.34},
{"it":55000,"y1":0.88,"y2":2.54},{"it":55500,"y1":0.78,"y2":2.77},{"it":56000,"y1":0.95,"y2":2.44},{"it":56500,"y1":0.92,"y2":2.52},{"it":57000,"y1":0.83,"y2":2.74},{"it":57500,"y1":1.01,"y2":2.42},{"it":58000,"y1":0.89,"y2":2.64},{"it":58500,"y1":0.97,"y2":2.51},{"it":59000,"y1":0.75,"y2":2.95},{"it":59500,"y1":1.0,"y2":2.47},
{"it":60000,"y1":0.89,"y2":2.71},{"it":60500,"y1":0.95,"y2":2.61},{"it":61000,"y1":1.04,"y2":2.46},{"it":61500,"y1":0.89,"y2":2.79},{"it":62000,"y1":0.98,"y2":2.59},{"it":62500,"y1":0.84,"y2":2.92},{"it":63000,"y1":1.03,"y2":2.56},{"it":63500,"y1":0.97,"y2":2.71},{"it":64000,"y1":1.06,"y2":2.57},{"it":64500,"y1":0.97,"y2":2.78},
{"it":65000,"y1":1.05,"y2":2.62},{"it":65500,"y1":0.94,"y2":2.86},{"it":66000,"y1":1.11,"y2":2.57},{"it":66500,"y1":1.02,"y2":2.75},{"it":67000,"y1":0.9,"y2":3.02},{"it":67500,"y1":1.1,"y2":2.64},{"it":68000,"y1":1.02,"y2":2.84},{"it":68500,"y1":1.06,"y2":2.73},{"it":69000,"y1":0.87,"y2":3.18},{"it":69500,"y1":1.13,"y2":2.62},
{"it":70000,"y1":1.07,"y2":2.79},{"it":70500,"y1":0.97,"y2":3.03},{"it":71000,"y1":1.13,"y2":2.74},{"it":71500,"y1":1.04,"y2":2.95},{"it":72000,"y1":1.2,"y2":2.73},{"it":72500,"y1":1.08,"y2":2.93},{"it":73000,"y1":0.96,"y2":3.21},{"it":73500,"y1":1.15,"y2":2.85},{"it":74000,"y1":1.06,"y2":3.05},{"it":74500,"y1":1.2,"y2":2.76},
{"it":75000,"y1":1.13,"y2":2.96},{"it":75500,"y1":1.02,"y2":3.21},{"it":76000,"y1":1.2,"y2":2.88},{"it":76500,"y1":1.17,"y2":2.97},{"it":77000,"y1":1.08,"y2":3.19},{"it":77500,"y1":1.26,"y2":2.89},{"it":78000,"y1":1.15,"y2":3.11},{"it":78500,"y1":1.22,"y2":2.99},{"it":79000,"y1":1.01,"y2":3.43},{"it":79500,"y1":1.26,"y2":2.97},
{"it":80000,"y1":1.16,"y2":3.21},{"it":80500,"y1":1.22,"y2":3.1},{"it":81000,"y1":1.31,"y2":2.94},{"it":81500,"y1":1.16,"y2":3.26},{"it":82000,"y1":1.27,"y2":3.05},{"it":82500,"y1":1.12,"y2":3.37},{"it":83000,"y1":1.31,"y2":3.0},{"it":83500,"y1":1.25,"y2":3.14},{"it":84000,"y1":1.34,"y2":2.99},{"it":84500,"y1":1.25,"y2":3.09},
{"it":85000,"y1":1.33,"y2":2.82},{"it":85500,"y1":1.31,"y2":2.9},{"it":86000,"y1":1.56,"y2":2.45},{"it":86500,"y1":1.4,"y2":2.77},{"it":87000,"y1":1.21,"y2":3.18},{"it":87500,"y1":1.39,"y2":2.94},{"it":88000,"y1":1.29,"y2":3.28},{"it":88500,"y1":1.33,"y2":3.2},{"it":89000,"y1":1.12,"y2":3.68},{"it":89500,"y1":1.38,"y2":3.14},
{"it":90000,"y1":1.31,"y2":3.34},{"it":90500,"y1":1.2,"y2":3.57},{"it":91000,"y1":1.36,"y2":3.27},{"it":91500,"y1":1.26,"y2":3.47},{"it":92000,"y1":1.42,"y2":3.24},{"it":92500,"y1":1.3,"y2":3.43},{"it":93000,"y1":1.17,"y2":3.7},{"it":93500,"y1":1.35,"y2":3.33},{"it":94000,"y1":1.27,"y2":3.52},{"it":94500,"y1":1.4,"y2":3.22},
{"it":95000,"y1":1.32,"y2":3.41},{"it":95500,"y1":1.21,"y2":3.65},{"it":96000,"y1":1.38,"y2":3.31},{"it":96500,"y1":1.34,"y2":3.39},{"it":97000,"y1":1.25,"y2":3.6},{"it":97500,"y1":1.43,"y2":3.29},{"it":98000,"y1":1.31,"y2":3.5},{"it":98500,"y1":1.38,"y2":3.37},{"it":99000,"y1":1.16,"y2":3.8},{"it":99500,"y1":1.4,"y2":3.33},
{"it":100000,"y1":1.29,"y2":3.56},{"it":100500,"y1":1.35,"y2":3.46},{"it":101000,"y1":1.44,"y2":3.31},{"it":101500,"y1":1.29,"y2":3.64},{"it":102000,"y1":1.39,"y2":3.44},{"it":102500,"y1":1.24,"y2":3.77},{"it":103000,"y1":1.42,"y2":3.41},{"it":103500,"y1":1.36,"y2":3.56},{"it":104000,"y1":1.45,"y2":3.42},{"it":104500,"y1":1.36,"y2":3.63},
{"it":105000,"y1":1.43,"y2":3.47},{"it":105500,"y1":1.33,"y2":3.71},{"it":106000,"y1":1.49,"y2":3.42},{"it":106500,"y1":1.4,"y2":3.6},{"it":107000,"y1":1.28,"y2":3.87},{"it":107500,"y1":1.48,"y2":3.49},{"it":108000,"y1":1.4,"y2":3.69},{"it":108500,"y1":1.44,"y2":3.58},{"it":109000,"y1":1.25,"y2":4.03},{"it":109500,"y1":1.51,"y2":3.47},
{"it":110000,"y1":1.45,"y2":3.64},{"it":110500,"y1":1.35,"y2":3.88},{"it":111000,"y1":1.53,"y2":3.59},{"it":111500,"y1":1.44,"y2":3.8},{"it":112000,"y1":1.61,"y2":3.58},{"it":112500,"y1":1.5,"y2":3.78},{"it":113000,"y1":1.39,"y2":4.06},{"it":113500,"y1":1.58,"y2":3.7},{"it":114000,"y1":1.51,"y2":3.9},{"it":114500,"y1":1.65,"y2":3.61},
{"it":115000,"y1":1.58,"y2":3.82},{"it":115500,"y1":1.48,"y2":4.06},{"it":116000,"y1":1.67,"y2":3.74},{"it":116500,"y1":1.64,"y2":3.82},{"it":117000,"y1":1.56,"y2":4.05},{"it":117500,"y1":1.74,"y2":3.74},{"it":118000,"y1":1.62,"y2":3.97},{"it":118500,"y1":1.68,"y2":3.81},{"it":119000,"y1":1.44,"y2":4.23},{"it":119500,"y1":1.67,"y2":3.73},
{"it":120000,"y1":1.54,"y2":3.94},{"it":120500,"y1":1.58,"y2":3.81},{"it":121000,"y1":1.65,"y2":3.63},{"it":121500,"y1":1.48,"y2":3.94},{"it":122000,"y1":1.56,"y2":3.71},{"it":122500,"y1":1.39,"y2":4.01},{"it":123000,"y1":1.55,"y2":3.62},{"it":123500,"y1":1.47,"y2":3.75},{"it":124000,"y1":1.54,"y2":3.58},{"it":124500,"y1":1.43,"y2":3.76},
{"it":125000,"y1":1.48,"y2":3.57},{"it":125500,"y1":1.36,"y2":3.8},{"it":126000,"y1":1.5,"y2":3.5},{"it":126500,"y1":1.39,"y2":3.67},{"it":127000,"y1":1.25,"y2":3.93},{"it":127500,"y1":1.43,"y2":3.54},{"it":128000,"y1":1.32,"y2":3.73},{"it":128500,"y1":1.35,"y2":3.61},{"it":129000,"y1":1.13,"y2":4.05},{"it":129500,"y1":1.38,"y2":3.48},
{"it":130000,"y1":1.29,"y2":3.64},{"it":130500,"y1":1.18,"y2":3.86},{"it":131000,"y1":1.34,"y2":3.56},{"it":131500,"y1":1.23,"y2":3.75},{"it":132000,"y1":1.38,"y2":3.52},{"it":132500,"y1":1.26,"y2":3.7},{"it":133000,"y1":1.13,"y2":3.97},{"it":133500,"y1":1.3,"y2":3.59},{"it":134000,"y1":1.21,"y2":3.78},{"it":134500,"y1":1.34,"y2":3.47},
{"it":135000,"y1":1.26,"y2":3.66},{"it":135500,"y1":1.15,"y2":3.88},{"it":136000,"y1":1.32,"y2":3.52},{"it":136500,"y1":1.28,"y2":3.58},{"it":137000,"y1":1.19,"y2":3.77},{"it":137500,"y1":1.35,"y2":3.44},{"it":138000,"y1":1.23,"y2":3.63},{"it":138500,"y1":1.3,"y2":3.48},{"it":139000,"y1":1.08,"y2":3.89},{"it":139500,"y1":1.32,"y2":3.4},
{"it":140000,"y1":1.21,"y2":3.61},{"it":140500,"y1":1.25,"y2":3.49},{"it":141000,"y1":1.33,"y2":3.31},{"it":141500,"y1":1.17,"y2":3.62},{"it":142000,"y1":1.26,"y2":3.39},{"it":142500,"y1":1.09,"y2":3.7},{"it":143000,"y1":1.27,"y2":3.31},{"it":143500,"y1":1.19,"y2":3.44},{"it":144000,"y1":1.27,"y2":3.27},{"it":144500,"y1":1.17,"y2":3.46},
{"it":145000,"y1":1.23,"y2":3.27},{"it":145500,"y1":1.12,"y2":3.5},{"it":146000,"y1":1.28,"y2":3.19},{"it":146500,"y1":1.18,"y2":3.36},{"it":147000,"y1":1.06,"y2":3.61},{"it":147500,"y1":1.24,"y2":3.22},{"it":148000,"y1":1.15,"y2":3.4},{"it":148500,"y1":1.19,"y2":3.28},{"it":149000,"y1":0.99,"y2":3.71},{"it":149500,"y1":1.25,"y2":3.14},
{"it":150000,"y1":1.18,"y2":3.29},{"it":150500,"y1":1.07,"y2":3.51},{"it":151000,"y1":1.24,"y2":3.2},{"it":151500,"y1":1.14,"y2":3.39},{"it":152000,"y1":1.3,"y2":3.15},{"it":152500,"y1":1.18,"y2":3.33},{"it":153000,"y1":1.06,"y2":3.59},{"it":153500,"y1":1.24,"y2":3.21},{"it":154000,"y1":1.16,"y2":3.39},{"it":154500,"y1":1.29,"y2":3.08},
{"it":155000,"y1":1.21,"y2":3.26},{"it":155500,"y1":1.1,"y2":3.49},{"it":156000,"y1":1.27,"y2":3.14},{"it":156500,"y1":1.23,"y2":3.21},{"it":157000,"y1":1.15,"y2":3.42},{"it":157500,"y1":1.32,"y2":3.09},{"it":158000,"y1":1.2,"y2":3.3},{"it":158500,"y1":1.27,"y2":3.16},{"it":159000,"y1":1.05,"y2":3.58},{"it":159500,"y1":1.29,"y2":3.1},
{"it":160000,"y1":1.18,"y2":3.33},{"it":160500,"y1":1.23,"y2":3.22},{"it":161000,"y1":1.32,"y2":3.05},{"it":161500,"y1":1.16,"y2":3.37},{"it":162000,"y1":1.27,"y2":3.16},{"it":162500,"y1":1.11,"y2":3.48},{"it":163000,"y1":1.29,"y2":3.1},{"it":163500,"y1":1.22,"y2":3.24},{"it":164000,"y1":1.31,"y2":3.09},{"it":164500,"y1":1.21,"y2":3.29},
{"it":165000,"y1":1.28,"y2":3.12},{"it":165500,"y1":1.17,"y2":3.34},{"it":166000,"y1":1.33,"y2":3.03},{"it":166500,"y1":1.23,"y2":3.19},{"it":167000,"y1":1.11,"y2":3.44},{"it":167500,"y1":1.3,"y2":3.04},{"it":168000,"y1":1.21,"y2":3.22},{"it":168500,"y1":1.26,"y2":3.09},{"it":169000,"y1":1.06,"y2":3.52},{"it":169500,"y1":1.32,"y2":2.94},
{"it":170000,"y1":1.25,"y2":3.09},{"it":170500,"y1":1.15,"y2":3.3},{"it":171000,"y1":1.31,"y2":3.0},{"it":171500,"y1":1.22,"y2":3.18},{"it":172000,"y1":1.37,"y2":2.94},{"it":172500,"y1":1.26,"y2":3.11},{"it":173000,"y1":1.14,"y2":3.37},
{"it":5150,"y1":0.5,"y2":6},{"it":5800,"y1":0.6,"y2":6},{"it":7400,"y1":0.7,"y2":6},{"it":9600,"y1":0.7,"y2":6},{"it":16200,"y1":0.8,"y2":6},{"it":52700,"y1":1.5,"y2":6},{"it":53800,"y1":1.5,"y2":6},{"it":66300,"y1":1.7,"y2":6},{"it":74200,"y1":1.8,"y2":6},{"it":75400,"y1":1.8,"y2":6},
{"it":80000,"y1":2.0,"y2":6},{"it":85300,"y1":2.0,"y2":6},{"it":86000,"y1":2.0,"y2":6},{"it":87600,"y1":2.0,"y2":6},{"it":94000,"y1":2.3,"y2":6},{"it":103700,"y1":2.3,"y2":6},{"it":105700,"y1":2.3,"y2":6},{"it":109000,"y1":2.4,"y2":6},{"it":110300,"y1":2.4,"y2":6},{"it":114300,"y1":2.6,"y2":6},
{"it":116500,"y1":2.6,"y2":6},{"it":118000,"y1":2.6,"y2":6},{"it":119200,"y1":2.6,"y2":6},{"it":121400,"y1":2.6,"y2":6},{"it":122200,"y1":2.6,"y2":6},{"it":124900,"y1":2.5,"y2":6},{"it":132800,"y1":2.3,"y2":6},{"it":136100,"y1":2.3,"y2":6},{"it":139400,"y1":2.3,"y2":6},{"it":142400,"y1":2.2,"y2":6},
{"it":147300,"y1":2.1,"y2":6},{"it":152600,"y1":2.1,"y2":6},{"it":156500,"y1":2.1,"y2":6},{"it":157200,"y1":2.1,"y2":6},{"it":161800,"y1":2.1,"y2":6},{"it":164400,"y1":2.1,"y2":6},{"it":167700,"y1":2.1,"y2":6},{"it":171700,"y1":2.1,"y2":6},
{"it":6500,"y1":0.6,"y2":3.2},{"it":8200,"y1":0.6,"y2":2.2},{"it":12000,"y1":0.7,"y2":3.0},{"it":14500,"y1":0.7,"y2":2.6},{"it":28000,"y1":1.0,"y2":2.4},{"it":30500,"y1":1.1,"y2":2.5},{"it":37000,"y1":1.2,"y2":2.7},{"it":41500,"y1":1.3,"y2":2.8},{"it":45700,"y1":1.4,"y2":2.8},{"it":49000,"y1":1.5,"y2":3.0},
{"it":59000,"y1":1.6,"y2":3.3},{"it":64500,"y1":1.7,"y2":3.4},{"it":70000,"y1":1.8,"y2":3.3},{"it":73000,"y1":1.9,"y2":3.6},{"it":78500,"y1":2.0,"y2":3.7},{"it":83000,"y1":2.0,"y2":3.6},{"it":90500,"y1":2.2,"y2":3.9},{"it":93000,"y1":2.3,"y2":4.0},{"it":97500,"y1":2.3,"y2":4.2},{"it":101500,"y1":2.3,"y2":4.1},
{"it":106500,"y1":2.4,"y2":4.0},{"it":108300,"y1":2.4,"y2":4.3},{"it":112500,"y1":2.5,"y2":4.2},{"it":117200,"y1":2.6,"y2":4.3},{"it":120600,"y1":2.6,"y2":4.4},{"it":124000,"y1":2.5,"y2":4.1},{"it":130500,"y1":2.3,"y2":4.0},{"it":134500,"y1":2.3,"y2":4.2},{"it":138000,"y1":2.3,"y2":4.3},{"it":144500,"y1":2.2,"y2":3.9},
{"it":146500,"y1":2.1,"y2":3.7},{"it":151500,"y1":2.1,"y2":3.6},{"it":154500,"y1":2.1,"y2":3.7},{"it":160500,"y1":2.1,"y2":3.6},{"it":165500,"y1":2.1,"y2":3.5},{"it":169500,"y1":2.1,"y2":3.6},
{"it":50500,"y1":1.3,"y2":0.4},{"it":61100,"y1":1.5,"y2":0.45},{"it":40000,"y1":1.2,"y2":0.7},{"it":24000,"y1":0.9,"y2":0.5},{"it":66000,"y1":1.5,"y2":0.85},{"it":70500,"y1":1.6,"y2":0.9},{"it":81700,"y1":1.6,"y2":0.65},{"it":91000,"y1":1.8,"y2":1.05},{"it":110500,"y1":2.0,"y2":0.98},{"it":124800,"y1":2.0,"y2":1.0},
{"it":129700,"y1":1.9,"y2":0.85},{"it":150000,"y1":1.7,"y2":0.9},{"it":157000,"y1":1.7,"y2":0.95},{"it":165000,"y1":1.7,"y2":0.92}
]
},
"vconcat": [
{
  "title": "Adaptation Loss",
  "width": 572, "height": 297,
  "encoding": {
    "x": {"field": "it", "type": "quantitative", "title": "Training Iterations",
      "scale": {"domain": [-8650, 181650], "nice": false, "zero": false},
      "axis": {"values": [0,25000,50000,75000,100000,125000,150000,175000], "format": "d", "labelFlush": false, "labelOverlap": false}}
  },
  "layer": [
    {"data": {"name": "a_band"}, "mark": {"type": "area", "color": "#E5BD92", "clip": true},
     "encoding": {
       "y": {"field": "lo", "type": "quantitative", "title": "Gradient Scale", "scale": {"domain": [-0.5, 4.5], "nice": false, "zero": false}, "axis": {"values": [0,1,2,3,4], "format": "d"}},
       "y2": {"field": "hi"}}},
    {"data": {"name": "a_spk"}, "mark": {"type": "rule", "clip": true, "strokeWidth": 1.1, "opacity": 1},
     "encoding": {
       "y": {"field": "y1", "type": "quantitative", "title": "Gradient Scale"},
       "y2": {"field": "y2"},
       "color": {"datum": "a", "type": "nominal", "scale": {"range": ["#E6BA8B"]},
         "legend": {"title": null, "orient": "top-left", "offset": 13, "padding": 10, "fillColor": "rgba(247,247,250,0.75)", "strokeColor": "#DCDCE3", "cornerRadius": 5, "symbolType": "stroke", "symbolSize": 2700, "symbolStrokeWidth": 1.3, "labelFont": "Liberation Sans", "labelFontSize": 25, "labelColor": "#262626", "labelOffset": 19, "labelLimit": 400, "labelBaseline": "bottom", "labelExpr": "['Mean:0.92', 'Std Dev:1.43']",
           "encode": {"labels": {"update": {"lineHeight": {"value": 27}}}}}}}}
  ]
},
{
  "title": "MI Gain",
  "width": 572, "height": 297,
  "encoding": {
    "x": {"field": "it", "type": "quantitative", "title": "Training Iterations",
      "scale": {"domain": [-8650, 181650], "nice": false, "zero": false},
      "axis": {"values": [0,25000,50000,75000,100000,125000,150000,175000], "format": "d", "labelFlush": false, "labelOverlap": false}}
  },
  "layer": [
    {"data": {"name": "m_band"}, "mark": {"type": "area", "color": "#E5BD92", "clip": true},
     "encoding": {
       "y": {"field": "lo", "type": "quantitative", "title": "Gradient Scale", "scale": {"domain": [-0.5, 4.5], "nice": false, "zero": false}, "axis": {"values": [0,1,2,3,4], "format": "d"}},
       "y2": {"field": "hi"}}},
    {"data": {"name": "m_spk"}, "mark": {"type": "rule", "clip": true, "strokeWidth": 1.1, "opacity": 1},
     "encoding": {
       "y": {"field": "y1", "type": "quantitative", "title": "Gradient Scale"},
       "y2": {"field": "y2"},
       "color": {"datum": "m", "type": "nominal", "scale": {"range": ["#E6BA8B"]},
         "legend": {"title": null, "orient": "top-left", "offset": 13, "padding": 10, "fillColor": "rgba(247,247,250,0.75)", "strokeColor": "#DCDCE3", "cornerRadius": 5, "symbolType": "stroke", "symbolSize": 2700, "symbolStrokeWidth": 1.3, "labelFont": "Liberation Sans", "labelFontSize": 25, "labelColor": "#262626", "labelOffset": 19, "labelLimit": 400, "labelBaseline": "bottom", "labelExpr": "['Mean:1.79', 'Std Dev:3.27']",
           "encode": {"labels": {"update": {"lineHeight": {"value": 27}}}}}}}}
  ]
}
]
}
